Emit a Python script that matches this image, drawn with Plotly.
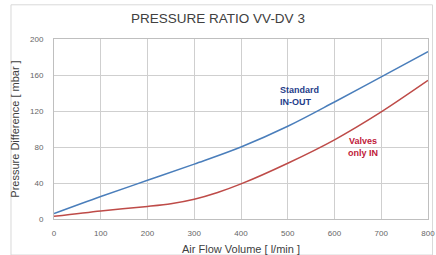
import plotly.graph_objects as go

flow = [0, 100, 200, 300, 400, 500, 600, 700, 800]
standard_in_out = [6, 25, 43, 61, 80, 103, 130, 158, 186]
flow_valves = [0, 100, 200, 250, 300, 350, 400, 500, 600, 700, 800]
valves_only_in = [3, 9, 14, 17, 22, 29.5, 39, 62, 88, 119, 154]
x_ticks = [0, 100, 200, 300, 400, 500, 600, 700, 800]
y_ticks = [0, 40, 80, 120, 160, 200]

fig = go.Figure()
fig.add_trace(go.Scatter(x=flow, y=standard_in_out, mode="lines",
                         line=dict(color="#4a7ebb", width=1.5, shape="spline", smoothing=1.0), name="Standard IN-OUT"))
fig.add_trace(go.Scatter(x=flow_valves, y=valves_only_in, mode="lines",
                         line=dict(color="#be4b48", width=1.5, shape="spline", smoothing=0.8), name="Valves only IN"))

fig.add_annotation(x=480, y=137, text="<b>Standard<br>IN-OUT</b>", showarrow=False, xanchor="left", align="left",
                   font=dict(family="Liberation Sans, Arial", size=9, color="#1f3d8a"))
fig.add_annotation(x=624, y=80, text="<b>Valves<br>only IN</b>", showarrow=False, xanchor="left", align="center",
                   font=dict(family="Liberation Sans, Arial", size=9, color="#c0203a"))

fig.update_layout(
    width=436, height=255,
    margin=dict(l=54, r=8, t=39, b=36, autoexpand=False),
    paper_bgcolor="white", plot_bgcolor="white",
    showlegend=False,
    title=dict(text="PRESSURE RATIO VV-DV 3", x=0.5, xanchor="center", y=1 - 18 / 255, yanchor="middle",
               font=dict(family="Liberation Sans, Arial", size=13.5, color="#404040")),
    font=dict(family="Liberation Sans, Arial", size=8, color="#666666"),
)
fig.update_xaxes(range=[0, 800], tickvals=x_ticks, showgrid=True, gridcolor="#cfcfcf", gridwidth=1, automargin=False,
                 zeroline=False, showline=True, linecolor="#bfbfbf", mirror=True, ticks="", ticklabelstandoff=6,
                 title=dict(text="Air Flow Volume [ l/min ]", font=dict(size=11, color="#404040"), standoff=12))
fig.update_yaxes(range=[0, 200], tickvals=y_ticks, showgrid=True, gridcolor="#cfcfcf", gridwidth=1, automargin=False,
                 zeroline=False, showline=True, linecolor="#bfbfbf", mirror=True, ticks="", ticklabelstandoff=8,
                 title=dict(text="Pressure Difference [ mbar ]", font=dict(size=11, color="#404040"), standoff=8))

fig.add_shape(type="rect", xref="paper", yref="paper", x0=-0.115, y0=-0.2, x1=1.012, y1=1.19,
              line=dict(color="#d9d9d9", width=1), layer="below")

fig.write_html("out.html", config={"displayModeBar": False},
               post_script="document.body.style.margin='0px';")
